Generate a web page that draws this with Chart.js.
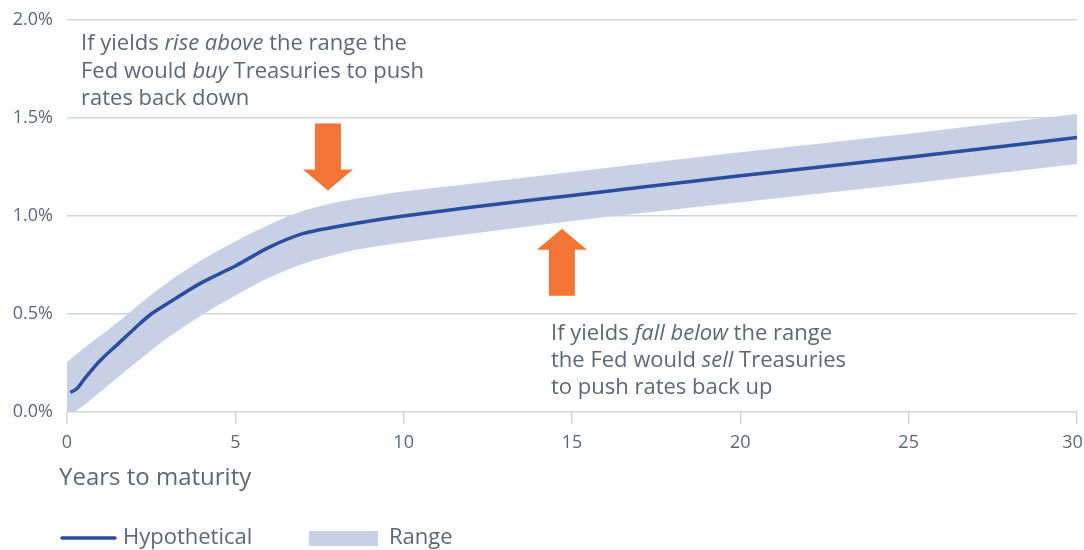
<!DOCTYPE html>
<html>
<head>
<meta charset="utf-8">
<script src="https://cdn.jsdelivr.net/npm/chart.js@4"></script>
<style>
  html, body { margin: 0; padding: 0; background: #fff; }
  #wrap { width: 1084px; height: 550px; }
</style>
</head>
<body>
<div id="wrap"><canvas id="chart" width="1084" height="550"></canvas></div>
<script>
// data
const lineYears    = [0.1, 0.3, 0.5, 1, 1.5, 2, 2.5, 3, 4, 5, 6, 7, 8, 9, 10, 12, 15, 20, 25, 30];
const hypothetical = [0.10, 0.12, 0.165, 0.265, 0.345, 0.425, 0.50, 0.555, 0.66, 0.745, 0.84, 0.91, 0.945, 0.975, 1.0, 1.045, 1.105, 1.205, 1.30, 1.40];

const bandYears  = [0, 0.5, 1, 1.5, 2, 2.5, 3, 4, 5, 6, 7, 8, 9, 10, 12, 15, 20, 25, 30];
const rangeUpper = [0.255, 0.325, 0.39, 0.458, 0.528, 0.598, 0.662, 0.775, 0.87, 0.955, 1.025, 1.07, 1.10, 1.125, 1.165, 1.225, 1.325, 1.42, 1.52];
const rangeLower = [-0.025, 0.035, 0.105, 0.175, 0.245, 0.315, 0.38, 0.495, 0.595, 0.685, 0.755, 0.805, 0.84, 0.865, 0.91, 0.975, 1.07, 1.165, 1.265];

const yTicks = [0, 0.5, 1.0, 1.5, 2.0];
const xTicks = [0, 5, 10, 15, 20, 25, 30];

// arrow tips (years, %)
const buyArrow  = { x: 7.75, y: 1.13, dir: 'down' };
const sellArrow = { x: 14.7, y: 0.935, dir: 'up' };

const noteAbove = [
    [['If yields ', 0], ['rise above', 1], [' the range the', 0]],
    [['Fed would ', 0], ['buy', 1], [' Treasuries to push', 0]],
    [['rates back down', 0]]
];
const noteBelow = [
    [['If yields ', 0], ['fall below', 1], [' the range', 0]],
    [['the Fed would ', 0], ['sell', 1], [' Treasuries', 0]],
    [['to push rates back up', 0]]
];

const FONT = '"Open Sans"';
const TEXT = '#5b6975';
const GRID = '#cfd5da';
const BLUE = '#2b4e9e';
const BAND = '#c8d0e6';
const ORANGE = '#f37536';

function pts(xs, ys) {
    return xs.map((x, i) => ({ x: x, y: ys[i] }));
}

function drawNote(ctx, lines, x, y, lh) {
    ctx.textBaseline = 'alphabetic';
    ctx.textAlign = 'left';
    ctx.fillStyle = TEXT;
    lines.forEach((segs, i) => {
        let cx = x;
        segs.forEach(s => {
            ctx.font = (s[1] ? 'italic ' : '') + '22px ' + FONT;
            ctx.fillText(s[0], cx, y + i * lh);
            cx += ctx.measureText(s[0]).width;
        });
    });
}

function drawArrow(ctx, px, py, dir) {
    const shaft = 26, head = 50, headH = 21, len = 67;
    const s = dir === 'down' ? -1 : 1; // direction from tip to tail
    ctx.fillStyle = ORANGE;
    ctx.beginPath();
    ctx.moveTo(px, py);
    ctx.lineTo(px + head / 2, py + s * headH);
    ctx.lineTo(px + shaft / 2, py + s * headH);
    ctx.lineTo(px + shaft / 2, py + s * len);
    ctx.lineTo(px - shaft / 2, py + s * len);
    ctx.lineTo(px - shaft / 2, py + s * headH);
    ctx.lineTo(px - head / 2, py + s * headH);
    ctx.closePath();
    ctx.fill();
}

const extras = {
    id: 'extras',
    afterDraw(chart) {
        const ctx = chart.ctx;
        const xs = chart.scales.x, ys = chart.scales.y;
        ctx.save();
        [buyArrow, sellArrow].forEach(a => {
            drawArrow(ctx, xs.getPixelForValue(a.x), ys.getPixelForValue(a.y), a.dir);
        });
        drawNote(ctx, noteAbove, 81, 50, 27.5);
        drawNote(ctx, noteBelow, 551, 340, 27);

        // axis title
        ctx.fillStyle = TEXT;
        ctx.font = '24px ' + FONT;
        ctx.textBaseline = 'middle';
        ctx.fillText('Years to maturity', 59, 478);

        // legend
        ctx.strokeStyle = BLUE;
        ctx.lineWidth = 3.5;
        ctx.lineCap = 'round';
        ctx.beginPath();
        ctx.moveTo(62, 538);
        ctx.lineTo(115, 538);
        ctx.stroke();
        ctx.font = '22px ' + FONT;
        ctx.fillText(chart.data.datasets[0].label, 123, 538);
        ctx.fillStyle = BAND;
        ctx.fillRect(309, 531, 69, 15);
        ctx.fillStyle = TEXT;
        ctx.fillText(chart.data.datasets[1].label, 389, 538);
        ctx.restore();
    }
};

new Chart(document.getElementById('chart'), {
    type: 'line',
    data: {
        datasets: [
            {
                label: 'Hypothetical',
                data: pts(lineYears, hypothetical),
                borderColor: BLUE,
                borderWidth: 3.5,
                pointRadius: 0,
                cubicInterpolationMode: 'monotone',
                fill: false
            },
            {
                label: 'Range',
                data: pts(bandYears, rangeUpper),
                borderWidth: 0,
                borderColor: 'rgba(0,0,0,0)',
                backgroundColor: BAND,
                pointRadius: 0,
                cubicInterpolationMode: 'monotone',
                fill: '+1'
            },
            {
                label: 'Range lower',
                data: pts(bandYears, rangeLower),
                borderWidth: 0,
                borderColor: 'rgba(0,0,0,0)',
                pointRadius: 0,
                cubicInterpolationMode: 'monotone',
                fill: false
            }
        ]
    },
    options: {
        responsive: false,
        animation: false,
        layout: { padding: { top: 20, right: 7, left: 0, bottom: 0 } },
        plugins: {
            legend: { display: false },
            tooltip: { enabled: false }
        },
        scales: {
            x: {
                type: 'linear',
                min: 0,
                max: 30,
                afterBuildTicks: s => { s.ticks = xTicks.map(v => ({ value: v })); },
                afterFit: s => { s.height = 138; s.paddingLeft = 0; s.paddingRight = 0; },
                border: { display: false },
                grid: { drawOnChartArea: false, color: GRID, lineWidth: 1.5, tickLength: 12 },
                ticks: {
                    color: TEXT,
                    font: { family: FONT, size: 18 },
                    padding: 8,
                    maxRotation: 0,
                    // last label sits a little left so it stays inside the canvas
                    callback: v => v === 30 ? '30\u2002' : String(v)
                }
            },
            y: {
                min: 0,
                max: 2,
                afterBuildTicks: s => { s.ticks = yTicks.map(v => ({ value: v })); },
                afterFit: s => { s.width = 67; s.paddingTop = 0; s.paddingBottom = 0; },
                border: { display: false },
                grid: { color: GRID, lineWidth: 1.5, drawTicks: false },
                ticks: {
                    color: TEXT,
                    font: { family: FONT, size: 18 },
                    padding: 14,
                    callback: v => v.toFixed(1) + '%'
                }
            }
        }
    },
    plugins: [extras]
});
</script>
</body>
</html>
